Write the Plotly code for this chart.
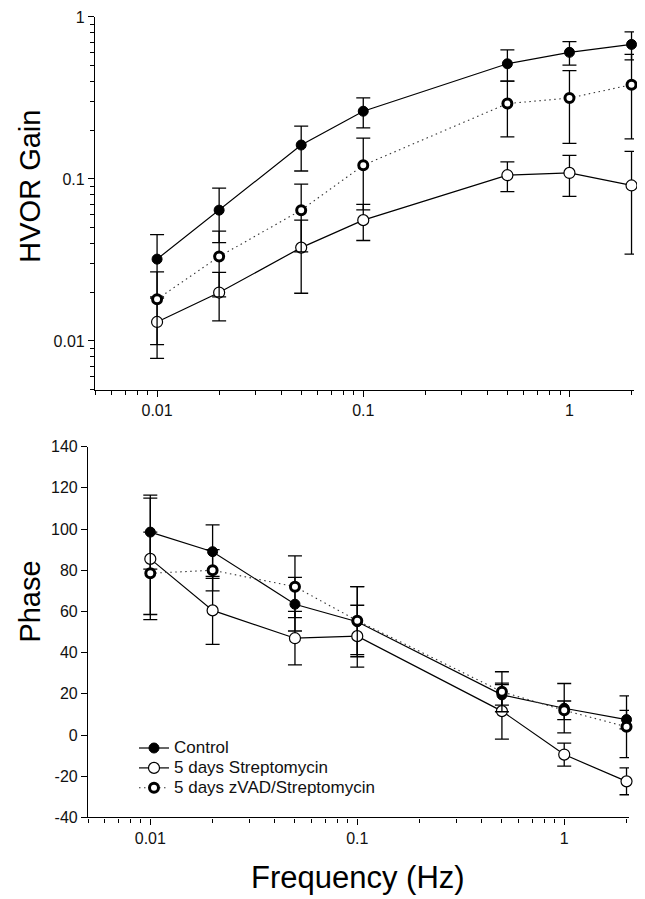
import plotly.graph_objects as go

# ---------------- data ----------------
freq = [0.01, 0.02, 0.05, 0.1, 0.5, 1, 2]

gain_control = [0.032, 0.0642, 0.162, 0.262, 0.514, 0.605, 0.677]
gain_control_err = [0.0133, 0.0237, 0.050, 0.055, 0.112, 0.100, 0.133]
gain_strep = [0.0131, 0.0199, 0.0377, 0.0557, 0.1055, 0.109, 0.0912]
gain_strep_err = [0.0053, 0.0066, 0.018, 0.014, 0.022, 0.031, 0.0568]
gain_zvad = [0.0181, 0.0332, 0.0642, 0.1215, 0.292, 0.316, 0.382]
gain_zvad_err = [0.0086, 0.0145, 0.0287, 0.057, 0.110, 0.150, 0.205]

phase_control = [98.5, 89, 63.5, 55, 19.5, 13, 7.5]
phase_control_err = [18, 13, 13, 17, 5, 12, 4.5]
phase_strep = [85.5, 60.5, 47, 48, 11.6, -9.5, -22.5]
phase_strep_err = [29.5, 16.5, 13, 15, 13.6, 5.6, 6.5]
phase_zvad = [78.5, 80, 72, 55.5, 21, 12, 4]
phase_zvad_err = [20, 10, 15, 16.5, 9.7, 4.5, 15]

series_names = ["Control", "5 days Streptomycin", "5 days zVAD/Streptomycin"]

x_tickvals = [0.01, 0.1, 1]
x_ticktext = ["0.01", "0.1", "1"]
gain_tickvals = [0.01, 0.1, 1]
gain_ticktext = ["0.01", "0.1", "1"]
phase_tickvals = [-40, -20, 0, 20, 40, 60, 80, 100, 120, 140]
phase_ticktext = ["-40", "-20", "0", "20", "40", "60", "80", "100", "120", "140"]

FONT = "Arial, Liberation Sans, sans-serif"
OFF = 8            # default page margin of the html body
W, H = 645 - OFF, 899 - OFF


def px(x):
    return (x - OFF) / W


def py(y):
    return 1 - (y - OFF) / H


minor_x = [m * 10 ** e for e in (-3, -2, -1) for m in range(2, 10)] + [2]
minor_x = [v for v in minor_x if 0.005 <= v <= 2]
minor_y = [m * 10 ** e for e in (-3, -2, -1) for m in range(2, 10)]
minor_y = [v for v in minor_y if 0.005 <= v <= 1]

styles = [
    dict(line=dict(color="black", width=1.2, dash="solid"),
         marker=dict(symbol="circle", size=10, color="black",
                     line=dict(color="black", width=1))),
    dict(line=dict(color="black", width=1.2, dash="solid"),
         marker=dict(symbol="circle", size=11, color="white",
                     line=dict(color="black", width=1.2))),
    dict(line=dict(color="#333", width=1.1, dash="1.5px,3.5px"),
         marker=dict(symbol="circle", size=9, color="white",
                     line=dict(color="black", width=3))),
]

fig = go.Figure()

gain_sets = [(gain_control, gain_control_err), (gain_strep, gain_strep_err),
             (gain_zvad, gain_zvad_err)]
phase_sets = [(phase_control, phase_control_err), (phase_strep, phase_strep_err),
              (phase_zvad, phase_zvad_err)]

for i, (vals, err) in enumerate(gain_sets):
    fig.add_trace(go.Scatter(
        x=freq, y=vals, mode="lines+markers", name=series_names[i],
        showlegend=False, xaxis="x", yaxis="y",
        error_y=dict(type="data", array=err, symmetric=True, color="black",
                     thickness=1.3, width=7),
        cliponaxis=False, **styles[i]))

for i, (vals, err) in enumerate(phase_sets):
    fig.add_trace(go.Scatter(
        x=freq, y=vals, mode="lines+markers",
        name="<span style='font-size:17px'>" + series_names[i] + "</span>",
        showlegend=True, xaxis="x2", yaxis="y2",
        error_y=dict(type="data", array=err, symmetric=True, color="black",
                     thickness=1.3, width=7),
        cliponaxis=False, **styles[i]))

axis_common = dict(showline=True, linecolor="black", linewidth=1.2,
                   ticks="outside", tickcolor="black", tickwidth=1.2, ticklen=6,
                   showgrid=False, zeroline=False, mirror=False,
                   tickfont=dict(family=FONT, size=16, color="#111"))

minor_style = dict(ticks="outside", ticklen=4, tickcolor="black",
                   tickwidth=1, showgrid=False)

XR = [-2.30103, 0.30103 + 0.012]

fig.update_layout(
    width=W, height=H,
    margin=dict(l=0, r=0, t=0, b=0),
    paper_bgcolor="white", plot_bgcolor="white",
    font=dict(family=FONT, color="black"),
    xaxis=dict(domain=[px(95), px(634)], anchor="y", type="log",
               range=XR, tickvals=x_tickvals, ticktext=x_ticktext,
               minor=dict(tickvals=minor_x, **minor_style), **axis_common),
    yaxis=dict(domain=[py(389), py(9)], anchor="x", type="log",
               range=[-2.30103, 0], tickvals=gain_tickvals, ticktext=gain_ticktext,
               minor=dict(tickvals=minor_y, **minor_style), **axis_common),
    xaxis2=dict(domain=[px(88), px(629)], anchor="y2", type="log",
                range=XR, tickvals=x_tickvals, ticktext=x_ticktext,
                minor=dict(tickvals=minor_x, **minor_style), **axis_common),
    yaxis2=dict(domain=[py(825), py(447)], anchor="x2",
                range=[-40, 140], tickvals=phase_tickvals, ticktext=phase_ticktext,
                **axis_common),
    legend=dict(x=px(134), y=py(739), xanchor="left", yanchor="top",
                bgcolor="rgba(0,0,0,0)", borderwidth=0,
                font=dict(family=FONT, size=13, color="#111"),
                tracegroupgap=0, itemwidth=30),
    showlegend=True,
    annotations=[
        dict(text="HVOR Gain", x=px(30), y=py(182), xref="paper", yref="paper",
             textangle=-90, showarrow=False, font=dict(family=FONT, size=29, color="black"),
             xanchor="center", yanchor="middle"),
        dict(text="Phase", x=px(30), y=py(605), xref="paper", yref="paper",
             textangle=-90, showarrow=False, font=dict(family=FONT, size=29, color="black"),
             xanchor="center", yanchor="middle"),
        dict(text="Frequency (Hz)", x=px(358), y=py(886), xref="paper", yref="paper",
             showarrow=False, font=dict(family=FONT, size=31, color="black"),
             xanchor="center", yanchor="middle"),
    ],
)

fig.write_html("out.html")
